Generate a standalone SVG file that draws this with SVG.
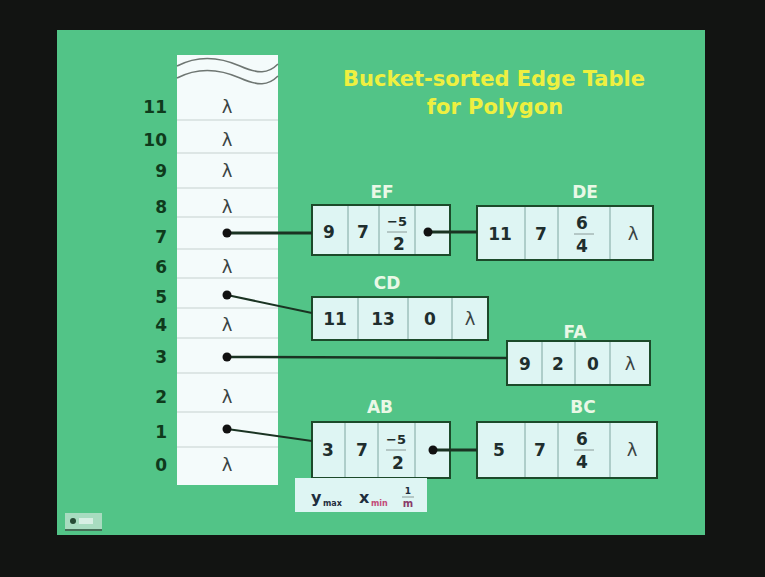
<svg xmlns="http://www.w3.org/2000/svg" width="765" height="577" viewBox="0 0 765 577">
<style>
.rowlab{font-family:"DejaVu Sans",Verdana,sans-serif;font-weight:bold;font-size:17px;fill:#0f3a1c;text-anchor:end}
.lam{font-family:"DejaVu Sans",sans-serif;font-size:18px;fill:#3a4444;text-anchor:middle}
.cell{fill:#def5f3;stroke:#1c4a2a;stroke-width:2}
.div{stroke:#7fa6a0;stroke-width:1}
.val{font-family:"DejaVu Sans",Verdana,sans-serif;font-weight:bold;font-size:17px;fill:#1e2e2e;text-anchor:middle}
.fn{font-family:"DejaVu Sans",Verdana,sans-serif;font-weight:bold;font-size:13px;fill:#1e2e2e;text-anchor:middle}
.fbar{stroke:#8a9a98;stroke-width:1}
.nlab{font-family:"DejaVu Sans",Verdana,sans-serif;font-weight:bold;font-size:17px;fill:#eaf8e6;text-anchor:middle}
.title{font-family:"DejaVu Sans",Verdana,sans-serif;font-weight:bold;font-size:21px;fill:#eef040;text-anchor:middle}
.conn{stroke:#1a3322;fill:none}
.dot{fill:#111}
.rl{stroke:#c6d2d0;stroke-width:1.2}
.lg{font-family:"DejaVu Sans",Verdana,sans-serif;font-weight:bold;fill:#1e2e3e}
</style>
<rect x="0" y="0" width="765" height="577" fill="#121412"/>
<rect x="57" y="30" width="648" height="505" fill="#52c487"/>

<text class="title" x="494" y="86">Bucket-sorted Edge Table</text>
<text class="title" x="495" y="114">for Polygon</text>

<g id="bucket-table">
  <rect x="177" y="55" width="101" height="430" fill="#f4fbfb"/>
  <path d="M177,66 C200,54 222,58 240,66 S268,74 278,64" fill="none" stroke="#6e7672" stroke-width="1.6"/>
  <path d="M177,78 C200,66 222,70 240,78 S268,86 278,76" fill="none" stroke="#6e7672" stroke-width="1.6"/>
  <line class="rl" x1="177" y1="120" x2="278" y2="120"/>
  <line class="rl" x1="177" y1="153" x2="278" y2="153"/>
  <line class="rl" x1="177" y1="188" x2="278" y2="188"/>
  <line class="rl" x1="177" y1="217" x2="278" y2="217"/>
  <line class="rl" x1="177" y1="249" x2="278" y2="249"/>
  <line class="rl" x1="177" y1="278" x2="278" y2="278"/>
  <line class="rl" x1="177" y1="308" x2="278" y2="308"/>
  <line class="rl" x1="177" y1="338" x2="278" y2="338"/>
  <line class="rl" x1="177" y1="373" x2="278" y2="373"/>
  <line class="rl" x1="177" y1="412" x2="278" y2="412"/>
  <line class="rl" x1="177" y1="447" x2="278" y2="447"/>
  <text class="rowlab" x="167" y="113">11</text>
  <text class="rowlab" x="167" y="146">10</text>
  <text class="rowlab" x="167" y="177">9</text>
  <text class="rowlab" x="167" y="213">8</text>
  <text class="rowlab" x="167" y="243">7</text>
  <text class="rowlab" x="167" y="273">6</text>
  <text class="rowlab" x="167" y="303">5</text>
  <text class="rowlab" x="167" y="331">4</text>
  <text class="rowlab" x="167" y="363">3</text>
  <text class="rowlab" x="167" y="403">2</text>
  <text class="rowlab" x="167" y="438">1</text>
  <text class="rowlab" x="167" y="471">0</text>
  <text class="lam" x="227" y="113">λ</text>
  <text class="lam" x="227" y="146">λ</text>
  <text class="lam" x="227" y="177">λ</text>
  <text class="lam" x="227" y="213">λ</text>
  <text class="lam" x="227" y="273">λ</text>
  <text class="lam" x="227" y="331">λ</text>
  <text class="lam" x="227" y="403">λ</text>
  <text class="lam" x="227" y="471">λ</text>
</g>

<g id="node-EF">
  <text class="nlab" x="382" y="198">EF</text>
  <rect class="cell" x="312" y="205" width="138" height="50"/>
  <line class="div" x1="348" y1="206" x2="348" y2="254"/>
  <line class="div" x1="379" y1="206" x2="379" y2="254"/>
  <line class="div" x1="415" y1="206" x2="415" y2="254"/>
  <text class="val" x="329" y="238">9</text>
  <text class="val" x="363" y="238">7</text>
  <text class="fn" x="397" y="226">−5</text>
  <line class="fbar" x1="387" y1="232" x2="407" y2="232"/>
  <text class="val" x="399" y="250">2</text>
</g>

<g id="node-DE">
  <text class="nlab" x="585" y="198">DE</text>
  <rect class="cell" x="477" y="206" width="176" height="54"/>
  <line class="div" x1="525" y1="207" x2="525" y2="259"/>
  <line class="div" x1="558" y1="207" x2="558" y2="259"/>
  <line class="div" x1="610" y1="207" x2="610" y2="259"/>
  <text class="val" x="500" y="240">11</text>
  <text class="val" x="541" y="240">7</text>
  <text class="val" x="582" y="229" font-size="16">6</text>
  <line class="fbar" x1="574" y1="234" x2="594" y2="234"/>
  <text class="val" x="582" y="252" font-size="16">4</text>
  <text class="lam" x="633" y="240">λ</text>
</g>

<g id="node-CD">
  <text class="nlab" x="387" y="289">CD</text>
  <rect class="cell" x="312" y="297" width="176" height="43"/>
  <line class="div" x1="358" y1="298" x2="358" y2="339"/>
  <line class="div" x1="408" y1="298" x2="408" y2="339"/>
  <line class="div" x1="452" y1="298" x2="452" y2="339"/>
  <text class="val" x="335" y="325">11</text>
  <text class="val" x="383" y="325">13</text>
  <text class="val" x="430" y="325">0</text>
  <text class="lam" x="470" y="325">λ</text>
</g>

<g id="node-FA">
  <text class="nlab" x="575" y="338">FA</text>
  <rect class="cell" x="507" y="341" width="143" height="44"/>
  <line class="div" x1="542" y1="342" x2="542" y2="384"/>
  <line class="div" x1="575" y1="342" x2="575" y2="384"/>
  <line class="div" x1="610" y1="342" x2="610" y2="384"/>
  <text class="val" x="525" y="370">9</text>
  <text class="val" x="558" y="370">2</text>
  <text class="val" x="593" y="370">0</text>
  <text class="lam" x="630" y="370">λ</text>
</g>

<g id="node-AB">
  <text class="nlab" x="380" y="413">AB</text>
  <rect class="cell" x="312" y="422" width="138" height="56"/>
  <line class="div" x1="345" y1="423" x2="345" y2="477"/>
  <line class="div" x1="378" y1="423" x2="378" y2="477"/>
  <line class="div" x1="415" y1="423" x2="415" y2="477"/>
  <text class="val" x="328" y="456">3</text>
  <text class="val" x="362" y="456">7</text>
  <text class="fn" x="396" y="444">−5</text>
  <line class="fbar" x1="386" y1="450" x2="406" y2="450"/>
  <text class="val" x="398" y="469">2</text>
</g>

<g id="node-BC">
  <text class="nlab" x="583" y="413">BC</text>
  <rect class="cell" x="477" y="422" width="180" height="56"/>
  <line class="div" x1="525" y1="423" x2="525" y2="477"/>
  <line class="div" x1="558" y1="423" x2="558" y2="477"/>
  <line class="div" x1="610" y1="423" x2="610" y2="477"/>
  <text class="val" x="499" y="456">5</text>
  <text class="val" x="540" y="456">7</text>
  <text class="val" x="582" y="445" font-size="16">6</text>
  <line class="fbar" x1="574" y1="450" x2="594" y2="450"/>
  <text class="val" x="582" y="468" font-size="16">4</text>
  <text class="lam" x="632" y="456">λ</text>
</g>

<g id="connectors">
  <line class="conn" x1="227" y1="233" x2="312" y2="233" stroke-width="3"/>
  <line class="conn" x1="227" y1="295" x2="312" y2="313" stroke-width="2"/>
  <line class="conn" x1="227" y1="357" x2="507" y2="358" stroke-width="2.5"/>
  <line class="conn" x1="227" y1="429" x2="312" y2="441" stroke-width="2"/>
  <line class="conn" x1="428" y1="232" x2="477" y2="232" stroke-width="3"/>
  <line class="conn" x1="433" y1="450" x2="477" y2="450" stroke-width="3"/>
  <circle class="dot" cx="227" cy="233" r="4.5"/>
  <circle class="dot" cx="227" cy="295" r="4.5"/>
  <circle class="dot" cx="227" cy="357" r="4.5"/>
  <circle class="dot" cx="227" cy="429" r="4.5"/>
  <circle class="dot" cx="428" cy="232" r="4.5"/>
  <circle class="dot" cx="433" cy="450" r="4.5"/>
</g>

<g id="legend">
  <rect x="295" y="478" width="132" height="34" fill="#def5f3"/>
  <text class="lg" font-size="16" x="311" y="503">y</text>
  <text class="lg" font-size="8" x="323" y="506">max</text>
  <text class="lg" font-size="16" x="359" y="503">x</text>
  <text class="lg" font-size="8" fill="#c24a78" x="371" y="506" style="fill:#c24a78">min</text>
  <text class="lg" font-size="9" text-anchor="middle" x="408" y="494">1</text>
  <line x1="402" y1="497" x2="414" y2="497" stroke="#8a9a98" stroke-width="1"/>
  <text class="lg" font-size="10" text-anchor="middle" x="408" y="507" style="fill:#8a3a6a">m</text>
</g>

<g id="nav-button">
  <rect x="65" y="513" width="37" height="18" fill="#a8dcc0"/>
  <circle cx="73" cy="521" r="3" fill="#264a34"/>
  <rect x="79" y="518" width="14" height="6" fill="#d8efe4"/>
  <line x1="65" y1="530" x2="102" y2="530" stroke="#264a34" stroke-width="1.5"/>
</g>
</svg>
